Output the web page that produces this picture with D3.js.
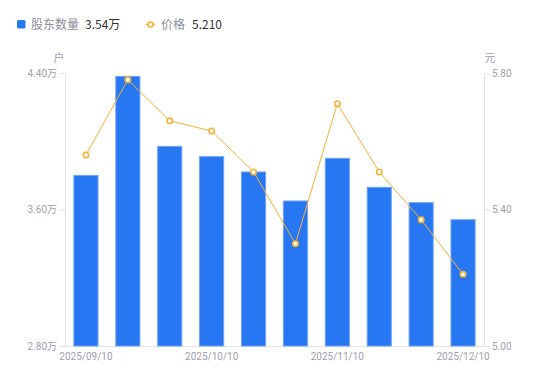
<!DOCTYPE html>
<html><head><meta charset="utf-8">
<script src="https://cdn.jsdelivr.net/npm/d3@7/dist/d3.min.js"></script>
<style>body{margin:0;background:#fff;}svg{display:block;font-family:"Noto Sans CJK SC","Noto Sans",sans-serif;}</style>
</head><body><svg id="c" width="550" height="381"></svg>
<script>
const dates = ["2025/09/10","2025/09/19","2025/09/30","2025/10/10","2025/10/20","2025/10/31","2025/11/10","2025/11/20","2025/11/28","2025/12/10"];
const holders = [3.80,4.38,3.97,3.91,3.82,3.65,3.90,3.73,3.64,3.54];
const prices = [5.56,5.78,5.66,5.63,5.51,5.30,5.71,5.51,5.37,5.21];
const leftTicks = [2.80,3.60,4.40];
const rightTicks = [5.00,5.40,5.80];
const xLabels = ["2025/09/10","2025/10/10","2025/11/10","2025/12/10"];

const svg = d3.select("#c");
const L=65, R=484, T=73, B=346;
const x = d3.scaleBand().domain(dates).range([L,R]).paddingInner(0.4).paddingOuter(0.2);
const yL = d3.scaleLinear().domain([2.8,4.4]).range([B,T]);
const yR = d3.scaleLinear().domain([5.0,5.8]).range([B,T]);
const axisColor="#e3e3e8", tickText="#a0a0ad";

// axes
const gl = svg.append("g").attr("transform",`translate(${L},0)`)
  .call(d3.axisLeft(yL).tickValues(leftTicks).tickSize(6).tickPadding(2).tickFormat(d=>d.toFixed(2)+"万"));
const gr = svg.append("g").attr("transform",`translate(${R},0)`)
  .call(d3.axisRight(yR).tickValues(rightTicks).tickSize(6).tickPadding(2).tickFormat(d=>d.toFixed(2)));
const gb = svg.append("g").attr("transform",`translate(0,${B})`)
  .call(d3.axisBottom(x).tickValues(xLabels).tickSize(0).tickPadding(7));
[gl,gr,gb].forEach(g=>{
  g.selectAll("path").attr("stroke",axisColor);
  g.selectAll("line").attr("stroke",axisColor);
  g.selectAll("text").attr("fill",tickText).style("font-size","10px").style("font-family","Roboto,'Noto Sans CJK SC',sans-serif");
});
gb.select("path").attr("d",`M${L},0.5H${R}`);

// bars
svg.append("g").selectAll("rect").data(holders).join("rect")
  .attr("x",(d,i)=>x(dates[i])+0.5).attr("width",x.bandwidth()-1)
  .attr("y",d=>yL(d)).attr("height",d=>B-yL(d))
  .attr("fill","#2777f2").attr("stroke","#6fa3f7").attr("stroke-width",1);

// line
const cx=(i)=>x(dates[i])+x.bandwidth()/2;
svg.append("path").datum(prices)
  .attr("d",d3.line().x((d,i)=>cx(i)).y(d=>yR(d)))
  .attr("fill","none").attr("stroke","#f7b035").attr("stroke-width",1);
svg.append("g").selectAll("circle").data(prices).join("circle")
  .attr("cx",(d,i)=>cx(i)).attr("cy",d=>yR(d)).attr("r",2.7)
  .attr("fill","#fff").attr("stroke","#f7b035").attr("stroke-width",1.6);

// unit labels
svg.append("text").attr("x",59).attr("y",62).attr("text-anchor","middle").attr("fill",tickText).style("font-size","11px").text("户");
svg.append("text").attr("x",490).attr("y",62).attr("text-anchor","middle").attr("fill",tickText).style("font-size","11px").text("元");

// legend
const lg = svg.append("g");
lg.append("rect").attr("x",17).attr("y",20).attr("width",8.5).attr("height",8.5).attr("rx",1.5).attr("fill","#2777f2");
lg.append("text").attr("x",31).attr("y",29).attr("fill","#8d8d9b").style("font-size","12px").text("股东数量");
lg.append("text").attr("x",85).attr("y",29).attr("fill","#333").style("font-size","12px").text(holders[holders.length-1].toFixed(2)+"万");
lg.append("line").attr("x1",146).attr("x2",155).attr("y1",24.5).attr("y2",24.5).attr("stroke","#f7b035").attr("stroke-width",1.5);
lg.append("circle").attr("cx",150.5).attr("cy",24.5).attr("r",2.5).attr("fill","#fff").attr("stroke","#f7b035").attr("stroke-width",1.6);
lg.append("text").attr("x",161).attr("y",29).attr("fill","#8d8d9b").style("font-size","12px").text("价格");
lg.append("text").attr("x",192).attr("y",29).attr("fill","#333").style("font-size","12px").text(prices[prices.length-1].toFixed(3));
</script></body></html>
